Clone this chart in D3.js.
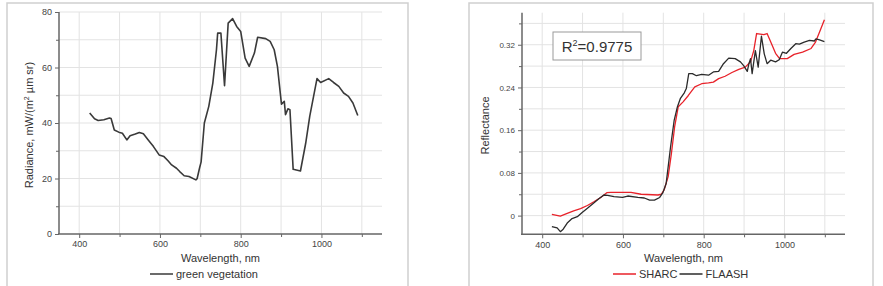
<!DOCTYPE html>
<html>
<head>
<meta charset="utf-8">
<script src="https://cdn.jsdelivr.net/npm/d3@7"></script>
<style>
    body { margin: 0; background: #fff; }
    text { font-family: "Liberation Sans", Arial, sans-serif; fill: #333; }
</style>
</head>
<body>
<svg id="chart" width="883" height="286"></svg>
<script>
'use strict';

// left panel: radiance of green vegetation
const radWave = [426, 438, 447, 461, 475, 479, 487, 498, 507, 518, 526, 539, 549, 559, 571, 584, 598, 610, 620, 629,
    641, 649, 660, 672, 689, 692, 698, 702, 710, 721, 731, 740, 743, 751, 760, 769, 780, 790, 800, 811,
    821, 834, 842, 862, 873, 883, 891, 901, 908, 911, 917, 922, 930, 948, 961, 971, 989, 998, 1018, 1030,
    1043, 1055, 1067, 1078, 1090];
const radValue = [43.6, 41.5, 40.9, 41.2, 41.8, 41.6, 37.5, 36.7, 36.3, 33.9, 35.4, 36.0, 36.6, 36.1, 33.9, 31.5, 28.5, 27.9, 26.4, 24.9,
    23.7, 22.5, 21.0, 20.7, 19.5, 19.9, 23.7, 26.0, 40.0, 46.0, 54.4, 66.4, 72.4, 72.4, 53.4, 76.0, 77.6, 74.8, 73.0, 63.4,
    60.4, 65.2, 70.9, 70.4, 69.4, 66.4, 60.4, 46.8, 47.8, 43.0, 45.1, 44.8, 23.3, 22.7, 32.7, 42.4, 56.0, 54.6, 56.0, 54.6,
    53.2, 50.8, 49.6, 47.2, 42.7];

// right panel: reflectance, SHARC vs FLAASH
const sharcWave = [424, 445, 462, 478, 495, 512, 528, 545, 560, 570, 620, 645, 687, 695, 702, 712, 720, 728, 737, 749,
    762, 778, 795, 812, 824, 837, 853, 870, 887, 903, 916, 924, 931, 949, 957, 968, 978, 988, 1007, 1024,
    1045, 1066, 1077, 1087, 1099];
const sharcValue = [0.0025, -0.001, 0.004, 0.009, 0.013, 0.019, 0.026, 0.034, 0.043, 0.0436, 0.0436, 0.040, 0.0386, 0.040, 0.048, 0.073, 0.116, 0.166, 0.204, 0.213,
    0.225, 0.241, 0.247, 0.2485, 0.250, 0.2565, 0.261, 0.268, 0.274, 0.278, 0.288, 0.309, 0.341, 0.339, 0.341, 0.322, 0.304, 0.294, 0.294, 0.302,
    0.306, 0.313, 0.325, 0.344, 0.367];

const flaashWave = [424, 437, 445, 452, 462, 474, 487, 499, 512, 527, 541, 553, 562, 578, 599, 612, 637, 653, 666, 678,
    691, 699, 707, 718, 727, 735, 742, 752, 757, 763, 772, 782, 795, 812, 824, 837, 849, 862, 878, 891,
    899, 908, 912, 916, 920, 928, 935, 943, 950, 957, 966, 978, 987, 995, 1005, 1016, 1028, 1037, 1049, 1062,
    1074, 1078, 1087, 1099];
const flaashValue = [-0.0205, -0.023, -0.030, -0.0255, -0.014, -0.0056, -0.002, 0.006, 0.0137, 0.023, 0.032, 0.0386, 0.038, 0.0355, 0.034, 0.0367, 0.034, 0.033, 0.029, 0.029,
    0.034, 0.043, 0.060, 0.129, 0.179, 0.204, 0.219, 0.230, 0.238, 0.266, 0.266, 0.262, 0.2645, 0.263, 0.269, 0.270, 0.2845, 0.295, 0.294, 0.288,
    0.281, 0.270, 0.2845, 0.294, 0.266, 0.309, 0.278, 0.336, 0.303, 0.2845, 0.291, 0.288, 0.292, 0.306, 0.304, 0.313, 0.322, 0.321, 0.325, 0.328,
    0.327, 0.331, 0.329, 0.326];

const xTicks = [400, 600, 800, 1000];
const radTicks = [0, 20, 40, 60, 80];
const reflTicks = [0, 0.08, 0.16, 0.24, 0.32];
const reflTickLabels = ["0", "0.08", "0.16", "0.24", "0.32"];

const svg = d3.select("#chart");

function zip(xs, ys) {
    return xs.map(function (x, i) { return [x, ys[i]]; });
}

function drawPanel(p) {
    const g = svg.append("g");

    // panel frame
    g.append("rect")
        .attr("x", p.frame[0]).attr("y", p.frame[1])
        .attr("width", p.frame[2]).attr("height", p.frame[3])
        .attr("fill", "none").attr("stroke", "#cfcfcf").attr("stroke-width", 1.5);

    const x = d3.scaleLinear().domain([350, 1150]).range([p.left, p.right]);
    const y = d3.scaleLinear().domain(p.yDomain).range([p.bottom, p.top]);

    // grid
    g.append("g").selectAll("line").data(d3.range(400, 1101, 100)).join("line")
        .attr("x1", d => x(d)).attr("x2", d => x(d))
        .attr("y1", p.top).attr("y2", p.bottom)
        .attr("stroke", "#e3e3e3").attr("stroke-width", 1);
    g.append("g").selectAll("line").data(p.yGrid).join("line")
        .attr("x1", p.left).attr("x2", p.right)
        .attr("y1", d => y(d)).attr("y2", d => y(d))
        .attr("stroke", "#e3e3e3").attr("stroke-width", 1);

    // axes
    const xAxis = g.append("g").attr("transform", "translate(0," + p.bottom + ")")
        .call(d3.axisBottom(x).tickValues(xTicks).tickSize(4).tickSizeOuter(0).tickPadding(3)
            .tickFormat(d3.format("d")));
    g.append("g").attr("transform", "translate(0," + p.bottom + ")")
        .call(d3.axisBottom(x).tickValues([500, 700, 900, 1100]).tickSize(3).tickSizeOuter(0).tickFormat(""))
        .select(".domain").remove();
    const yAxis = g.append("g").attr("transform", "translate(" + p.left + ",0)")
        .call(d3.axisLeft(y).tickValues(p.yTicks).tickSize(4).tickSizeOuter(0).tickPadding(3)
            .tickFormat((d, i) => p.yLabels[i]));
    g.append("g").attr("transform", "translate(" + p.left + ",0)")
        .call(d3.axisLeft(y).tickValues(p.yMinor).tickSize(3).tickSizeOuter(0).tickFormat(""))
        .select(".domain").remove();

    g.selectAll(".domain").attr("stroke", "#666").attr("stroke-width", 1.5);
    xAxis.select(".domain").attr("d", "M" + (p.left - 1) + ",0H" + p.right);
    yAxis.select(".domain").attr("d", "M0," + p.top + "V" + p.bottom);
    g.selectAll(".tick line").attr("stroke", "#666");
    xAxis.selectAll("text").attr("font-size", 9).style("fill", "#444");
    yAxis.selectAll("text").attr("font-size", p.yFont).style("fill", "#444");

    // titles
    g.append("text")
        .attr("x", (p.left + p.right) / 2).attr("y", 262)
        .attr("text-anchor", "middle").attr("font-size", 11)
        .text("Wavelength, nm");
    const yt = g.append("text")
        .attr("transform", "translate(" + p.yTitleX + "," + ((p.top + p.bottom) / 2 + 2) + ") rotate(-90)")
        .attr("text-anchor", "middle").attr("font-size", 11);
    p.yTitle(yt);

    // series
    const line = d3.line().x(d => x(d[0])).y(d => y(d[1]));
    p.series.forEach(function (s) {
        g.append("path").datum(s.points)
            .attr("d", line)
            .attr("fill", "none").attr("stroke", s.color)
            .attr("stroke-width", s.width).attr("stroke-linejoin", "round");
    });

    // legend
    let lx = p.legendX;
    p.series.forEach(function (s) {
        g.append("line")
            .attr("x1", lx).attr("x2", lx + 23).attr("y1", 274).attr("y2", 274)
            .attr("stroke", s.color).attr("stroke-width", 1.5);
        const t = g.append("text")
            .attr("x", lx + 26).attr("y", 278).attr("font-size", 11)
            .text(s.name);
        lx += 26 + t.node().getComputedTextLength() + 2;
    });

    return {g: g, x: x, y: y};
}

drawPanel({
    frame: [7, 3, 401, 300],
    left: 59, right: 382, top: 12, bottom: 234,
    yDomain: [0, 80],
    yGrid: d3.range(10, 81, 10),
    yTicks: radTicks,
    yLabels: radTicks.map(String),
    yMinor: [10, 30, 50, 70],
    yFont: 9,
    yTitleX: 33,
    yTitle: function (t) {
        t.append("tspan").text("Radiance, mW/(m");
        t.append("tspan").attr("font-size", 7).attr("dy", -4).text("2");
        t.append("tspan").attr("dy", 4).text(" \u00b5m sr)");
    },
    legendX: 150,
    series: [
        {name: "green vegetation", color: "#3a3a3a", width: 1.6, points: zip(radWave, radValue)}
    ]
});

const right = drawPanel({
    frame: [469, 3, 404, 300],
    left: 522, right: 845, top: 12.7, bottom: 234.3,
    yDomain: [-0.035, 0.38],
    yGrid: d3.range(0, 0.37, 0.04),
    yTicks: reflTicks,
    yLabels: reflTickLabels,
    yMinor: [0.04, 0.12, 0.2, 0.28, 0.36],
    yFont: 8,
    yTitleX: 489,
    yTitle: function (t) { t.text("Reflectance"); },
    legendX: 613,
    series: [
        {name: "SHARC", color: "#e8222a", width: 1.3, points: zip(sharcWave, sharcValue)},
        {name: "FLAASH", color: "#2b2b2b", width: 1.3, points: zip(flaashWave, flaashValue)}
    ]
});

// R² annotation box
right.g.append("rect")
    .attr("x", 553).attr("y", 32).attr("width", 88).attr("height", 28)
    .attr("fill", "#fff").attr("stroke", "#9a9a9a").attr("stroke-width", 1);
const r2 = right.g.append("text")
    .attr("x", 597).attr("y", 52).attr("text-anchor", "middle").attr("font-size", 15);
r2.append("tspan").text("R");
r2.append("tspan").attr("font-size", 9).attr("dy", -6).text("2");
r2.append("tspan").attr("dy", 6).text("=0.9775");
</script>
</body>
</html>
